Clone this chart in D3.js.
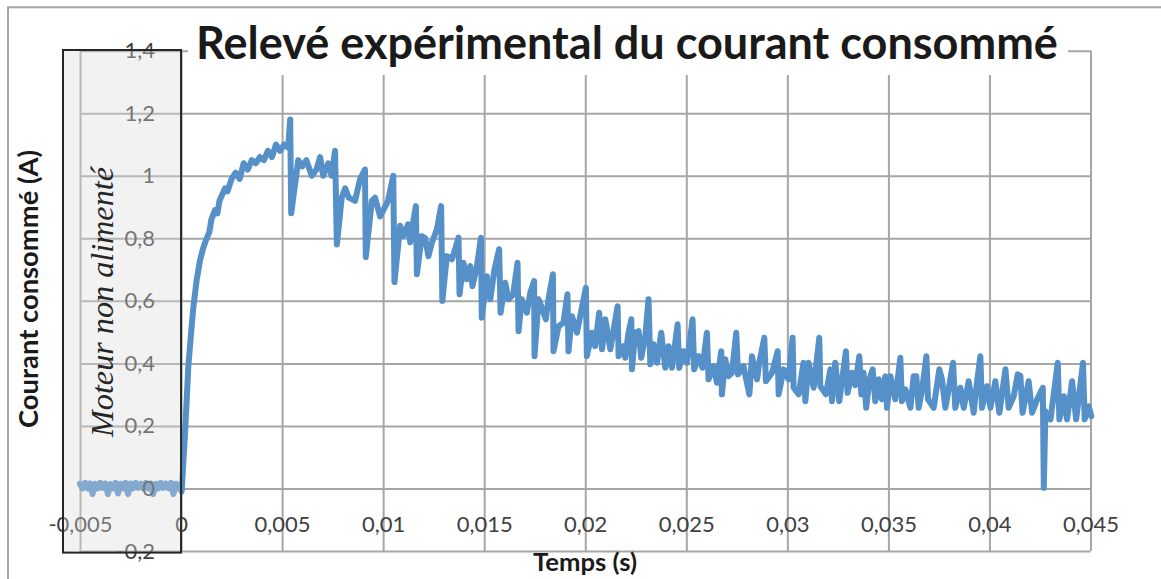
<!DOCTYPE html>
<html>
<head>
<meta charset="utf-8">
<script src="https://cdn.jsdelivr.net/npm/d3@7"></script>
<style>
  body { margin: 0; background: #fff; }
  svg { display: block; }
</style>
</head>
<body>
<script>
const width = 1161;
const height = 579;

// plot area in px
const plotLeft = 80;
const plotRight = 1090.5;
const plotTop = 50.7;
const plotBottom = 551;

const title = 'Relevé expérimental du courant consommé';
const xTitle = 'Temps (s)';
const yTitle = 'Courant consommé (A)';
const boxLabel = 'Moteur non alimenté';

const xTicks = [-0.005, 0, 0.005, 0.01, 0.015, 0.02, 0.025, 0.03, 0.035, 0.04, 0.045];
const xTickLabels = ['-0,005', '0', '0,005', '0,01', '0,015', '0,02', '0,025', '0,03', '0,035', '0,04', '0,045'];
const yTicks = [-0.2, 0, 0.2, 0.4, 0.6, 0.8, 1, 1.2, 1.4];
const yTickLabels = ['-0,2', '0', '0,2', '0,4', '0,6', '0,8', '1', '1,2', '1,4'];

// motor not powered: time span of the shaded box
const offPeriod = [-0.005, 0];

// [time (s), current (A)], motor off
const offSamples = [
  [-0.005, 0.015], [-0.00488, 0.0], [-0.00475, 0.018], [-0.00462, 0.0], [-0.0045, 0.016],
  [-0.00438, -0.018], [-0.00425, 0.015], [-0.00412, 0.0], [-0.004, 0.018], [-0.00388, 0.002],
  [-0.00375, 0.016], [-0.00362, -0.018], [-0.0035, 0.014], [-0.00338, 0.0], [-0.00325, 0.018],
  [-0.00312, -0.016], [-0.003, 0.015], [-0.00288, 0.0], [-0.00275, 0.018], [-0.00262, -0.018],
  [-0.0025, 0.016], [-0.00238, 0.0], [-0.00225, 0.018], [-0.00212, 0.002], [-0.002, 0.015],
  [-0.00188, 0.0], [-0.00175, 0.018], [-0.00162, 0.0], [-0.0015, 0.016], [-0.00138, -0.018],
  [-0.00125, 0.015], [-0.00112, 0.0], [-0.001, 0.018], [-0.00088, 0.002], [-0.00075, 0.016],
  [-0.00062, 0.0], [-0.0005, 0.018], [-0.00038, -0.018], [-0.00025, 0.015], [-0.00012, 0.0],
  [0, 0.015],
];

// motor on
const onSamples = [
  [0.00003, -0.01], [0.0002, 0.18], [0.00036, 0.39], [0.0005, 0.5], [0.00061, 0.58],
  [0.00078, 0.67], [0.00094, 0.73], [0.0011, 0.77], [0.00127, 0.8], [0.0014, 0.82],
  [0.0015, 0.86], [0.00168, 0.89], [0.0018, 0.88], [0.0019, 0.92], [0.00218, 0.96],
  [0.0023, 0.95], [0.0025, 0.99], [0.0027, 1.01], [0.0029, 0.99], [0.0031, 1.04],
  [0.0033, 1.02], [0.0035, 1.05], [0.0037, 1.04], [0.0039, 1.06], [0.0041, 1.05],
  [0.0043, 1.08], [0.0045, 1.06], [0.0047, 1.1], [0.0049, 1.08], [0.0051, 1.1],
  [0.0053, 1.09], [0.0054, 1.18], [0.00545, 0.88], [0.0058, 1.05], [0.006, 1.03],
  [0.0062, 1.05], [0.00647, 1.0], [0.0067, 1.02], [0.00688, 1.06], [0.00703, 1.0],
  [0.00728, 1.04], [0.00745, 1.0], [0.00762, 1.08], [0.00771, 0.78], [0.00795, 0.93],
  [0.00812, 0.96], [0.0083, 0.93], [0.00861, 0.92], [0.00886, 0.99], [0.0091, 1.02],
  [0.00914, 0.74], [0.00944, 0.92], [0.0096, 0.93], [0.00985, 0.87], [0.01024, 0.92],
  [0.0105, 1.0], [0.01056, 0.66], [0.01084, 0.84], [0.011, 0.807], [0.01124, 0.845],
  [0.01134, 0.787], [0.01148, 0.85], [0.01162, 0.903], [0.01167, 0.685], [0.01191, 0.807],
  [0.01208, 0.8], [0.01224, 0.743], [0.01241, 0.786], [0.01266, 0.829], [0.01287, 0.903],
  [0.01293, 0.6], [0.01315, 0.743], [0.0134, 0.733], [0.01356, 0.765], [0.01373, 0.802],
  [0.01378, 0.621], [0.01397, 0.722], [0.01414, 0.669], [0.01431, 0.711], [0.01442, 0.647],
  [0.01464, 0.711], [0.01484, 0.802], [0.01488, 0.546], [0.01513, 0.679], [0.0153, 0.605],
  [0.01551, 0.701], [0.01574, 0.765], [0.01581, 0.562], [0.01604, 0.658], [0.0162, 0.605],
  [0.01643, 0.62], [0.01665, 0.722], [0.0167, 0.503], [0.01686, 0.605], [0.01711, 0.562],
  [0.01728, 0.626], [0.01747, 0.663], [0.01749, 0.423], [0.01769, 0.605], [0.01785, 0.578],
  [0.01805, 0.541], [0.01818, 0.605], [0.0184, 0.685], [0.01843, 0.439], [0.01868, 0.519],
  [0.01892, 0.53], [0.01912, 0.621], [0.01917, 0.439], [0.01934, 0.551], [0.01959, 0.498],
  [0.01975, 0.551], [0.02003, 0.642], [0.02008, 0.423], [0.02033, 0.498], [0.02049, 0.455],
  [0.02069, 0.562], [0.02083, 0.445], [0.02099, 0.541], [0.02124, 0.445], [0.0216, 0.583],
  [0.02165, 0.423], [0.02189, 0.455], [0.02198, 0.418], [0.02214, 0.498], [0.02228, 0.541],
  [0.02231, 0.381], [0.02247, 0.498], [0.02264, 0.503], [0.02277, 0.418], [0.02297, 0.487],
  [0.02313, 0.605], [0.02322, 0.397], [0.02338, 0.461], [0.02355, 0.402], [0.02376, 0.498],
  [0.02396, 0.386], [0.02412, 0.455], [0.02429, 0.386], [0.02457, 0.525], [0.02465, 0.386],
  [0.02486, 0.439], [0.02503, 0.402], [0.02531, 0.541], [0.02539, 0.381], [0.02561, 0.423],
  [0.0258, 0.386], [0.02602, 0.498], [0.0261, 0.349], [0.02635, 0.391], [0.02652, 0.338],
  [0.02673, 0.439], [0.02676, 0.301], [0.02693, 0.413], [0.02709, 0.359], [0.02726, 0.37],
  [0.02747, 0.498], [0.02756, 0.365], [0.02783, 0.391], [0.02812, 0.301], [0.02825, 0.423],
  [0.0285, 0.349], [0.02861, 0.402], [0.02886, 0.482], [0.02894, 0.343], [0.02924, 0.37],
  [0.02952, 0.439], [0.02957, 0.301], [0.02981, 0.381], [0.03006, 0.349], [0.03026, 0.482],
  [0.03031, 0.322], [0.03056, 0.301], [0.0308, 0.402], [0.03089, 0.279], [0.03105, 0.402],
  [0.0313, 0.322], [0.03158, 0.482], [0.03163, 0.327], [0.03191, 0.301], [0.03213, 0.381],
  [0.03221, 0.279], [0.03237, 0.402], [0.03257, 0.279], [0.0329, 0.439], [0.03298, 0.306],
  [0.0332, 0.37], [0.03336, 0.33], [0.03356, 0.423], [0.03366, 0.301], [0.03377, 0.37],
  [0.0339, 0.258], [0.03406, 0.349], [0.03422, 0.381], [0.03435, 0.279], [0.03452, 0.349],
  [0.03468, 0.285], [0.03485, 0.359], [0.03493, 0.258], [0.0351, 0.359], [0.03534, 0.285],
  [0.03559, 0.418], [0.03567, 0.279], [0.03584, 0.317], [0.03609, 0.258], [0.03625, 0.359],
  [0.03638, 0.359], [0.0365, 0.258], [0.03667, 0.317], [0.03688, 0.423], [0.03696, 0.285],
  [0.03724, 0.258], [0.03752, 0.381], [0.03765, 0.349], [0.03782, 0.258], [0.03798, 0.317],
  [0.0382, 0.402], [0.03831, 0.258], [0.03856, 0.322], [0.03873, 0.258], [0.03897, 0.343],
  [0.03922, 0.242], [0.03935, 0.322], [0.03955, 0.423], [0.03963, 0.258], [0.03988, 0.327],
  [0.04005, 0.258], [0.04029, 0.343], [0.04049, 0.242], [0.04079, 0.381], [0.04095, 0.258],
  [0.0412, 0.295], [0.0414, 0.365], [0.04153, 0.36], [0.04164, 0.242], [0.04194, 0.343],
  [0.04211, 0.242], [0.04236, 0.285], [0.04264, 0.322], [0.04269, 0.002], [0.04277, 0.247],
  [0.04302, 0.221], [0.04338, 0.402], [0.04346, 0.221], [0.04368, 0.295], [0.04384, 0.221],
  [0.04409, 0.343], [0.04429, 0.221], [0.04463, 0.402], [0.04471, 0.221], [0.04491, 0.263],
  [0.04504, 0.231],
];

const samples = offSamples.concat(onSamples);

const x = d3.scaleLinear()
  .domain([xTicks[0], xTicks[xTicks.length - 1]])
  .range([plotLeft, plotRight]);

const y = d3.scaleLinear()
  .domain([yTicks[0], yTicks[yTicks.length - 1]])
  .range([plotBottom, plotTop]);

const svg = d3.select('body')
  .append('svg')
    .attr('width', width)
    .attr('height', height)
    .attr('viewBox', [0, 0, width, height].join(' '))
    .style('font-family', 'Lato, "Open Sans", sans-serif');

// shrink / grow a text until it has the wanted length
const fitText = (sel, target) => {
  const w = sel.node().getComputedTextLength();
  const fs = parseFloat(sel.attr('font-size'));
  sel.attr('font-size', fs * target / w);
};

// chart frame
svg.append('rect')
  .attr('x', 8)
  .attr('y', 7.3)
  .attr('width', 1300)
  .attr('height', 700)
  .attr('fill', 'none')
  .attr('stroke', '#a6a6a6')
  .attr('stroke-width', 2);

// grid
svg.append('g')
  .attr('class', 'grid-x')
  .attr('transform', `translate(0, ${plotBottom})`)
  .call(d3.axisBottom(x).tickValues(xTicks).tickSize(-(plotBottom - plotTop)).tickFormat(''))
  .call((g) => g.select('.domain').remove())
  .call((g) => g.selectAll('line').attr('stroke', '#a6a6a6').attr('stroke-width', 2));

svg.append('g')
  .attr('class', 'grid-y')
  .attr('transform', `translate(${plotLeft}, 0)`)
  .call(d3.axisLeft(y).tickValues(yTicks).tickSize(-(plotRight - plotLeft)).tickFormat(''))
  .call((g) => g.select('.domain').remove())
  .call((g) => g.selectAll('line').attr('stroke', '#a6a6a6').attr('stroke-width', 2));

// title on a white plate
svg.append('rect')
  .attr('x', 188)
  .attr('y', 18)
  .attr('width', 880)
  .attr('height', 57)
  .attr('fill', '#fff');

const titleText = svg.append('text')
  .attr('x', 627)
  .attr('y', 58.5)
  .attr('text-anchor', 'middle')
  .attr('font-size', 40)
  .attr('font-weight', 'bold')
  .attr('fill', '#1a1a1a')
  .text(title);
fitText(titleText, 862);

// measured current
const line = d3.line()
  .x((d) => x(d[0]))
  .y((d) => y(d[1]));

svg.append('path')
  .datum(samples)
  .attr('d', line)
  .attr('fill', 'none')
  .attr('stroke', '#5590c9')
  .attr('stroke-width', 6)
  .attr('stroke-linejoin', 'round')
  .attr('stroke-linecap', 'round');

// tick labels
svg.append('g')
  .attr('class', 'x-labels')
  .attr('transform', 'translate(0, 516)')
  .call(d3.axisBottom(x).tickValues(xTicks).tickSize(0).tickPadding(0)
    .tickFormat((d, i) => xTickLabels[i]))
  .call((g) => g.select('.domain').remove())
  .call((g) => g.selectAll('text')
    .attr('font-size', 22)
    .attr('font-family', 'Lato, sans-serif')
    .attr('fill', '#404040'));

svg.append('g')
  .attr('class', 'y-labels')
  .attr('transform', 'translate(155, 0)')
  .call(d3.axisLeft(y).tickValues(yTicks).tickSize(0).tickPadding(0)
    .tickFormat((d, i) => yTickLabels[i]))
  .call((g) => g.select('.domain').remove())
  .call((g) => g.selectAll('text')
    .attr('font-size', 22)
    .attr('font-family', 'Lato, sans-serif')
    .attr('fill', '#404040'));

// "motor off" box
svg.append('rect')
  .attr('x', x(offPeriod[0]) - 17)
  .attr('y', plotTop - 0.7)
  .attr('width', x(offPeriod[1]) - x(offPeriod[0]) + 17)
  .attr('height', plotBottom - plotTop + 2.3)
  .attr('fill', '#d9d9d9')
  .attr('fill-opacity', 0.35)
  .attr('stroke', '#262626')
  .attr('stroke-width', 2);

const boxText = svg.append('text')
  .attr('transform', `translate(113, 302) rotate(-90)`)
  .attr('text-anchor', 'middle')
  .attr('font-family', '"Liberation Serif", "DejaVu Serif", serif')
  .attr('font-style', 'italic')
  .attr('font-size', 32)
  .attr('fill', '#262626')
  .text(boxLabel);
fitText(boxText, 270);

// axis titles
const xTitleText = svg.append('text')
  .attr('x', 585)
  .attr('y', 571)
  .attr('text-anchor', 'middle')
  .attr('font-size', 20)
  .attr('font-weight', 'bold')
  .attr('fill', '#1a1a1a')
  .text(xTitle);
fitText(xTitleText, 104);

const yTitleText = svg.append('text')
  .attr('transform', 'translate(38, 289) rotate(-90)')
  .attr('text-anchor', 'middle')
  .attr('font-size', 20)
  .attr('font-weight', 'bold')
  .attr('fill', '#1a1a1a')
  .text(yTitle);
fitText(yTitleText, 278);
</script>
</body>
</html>
